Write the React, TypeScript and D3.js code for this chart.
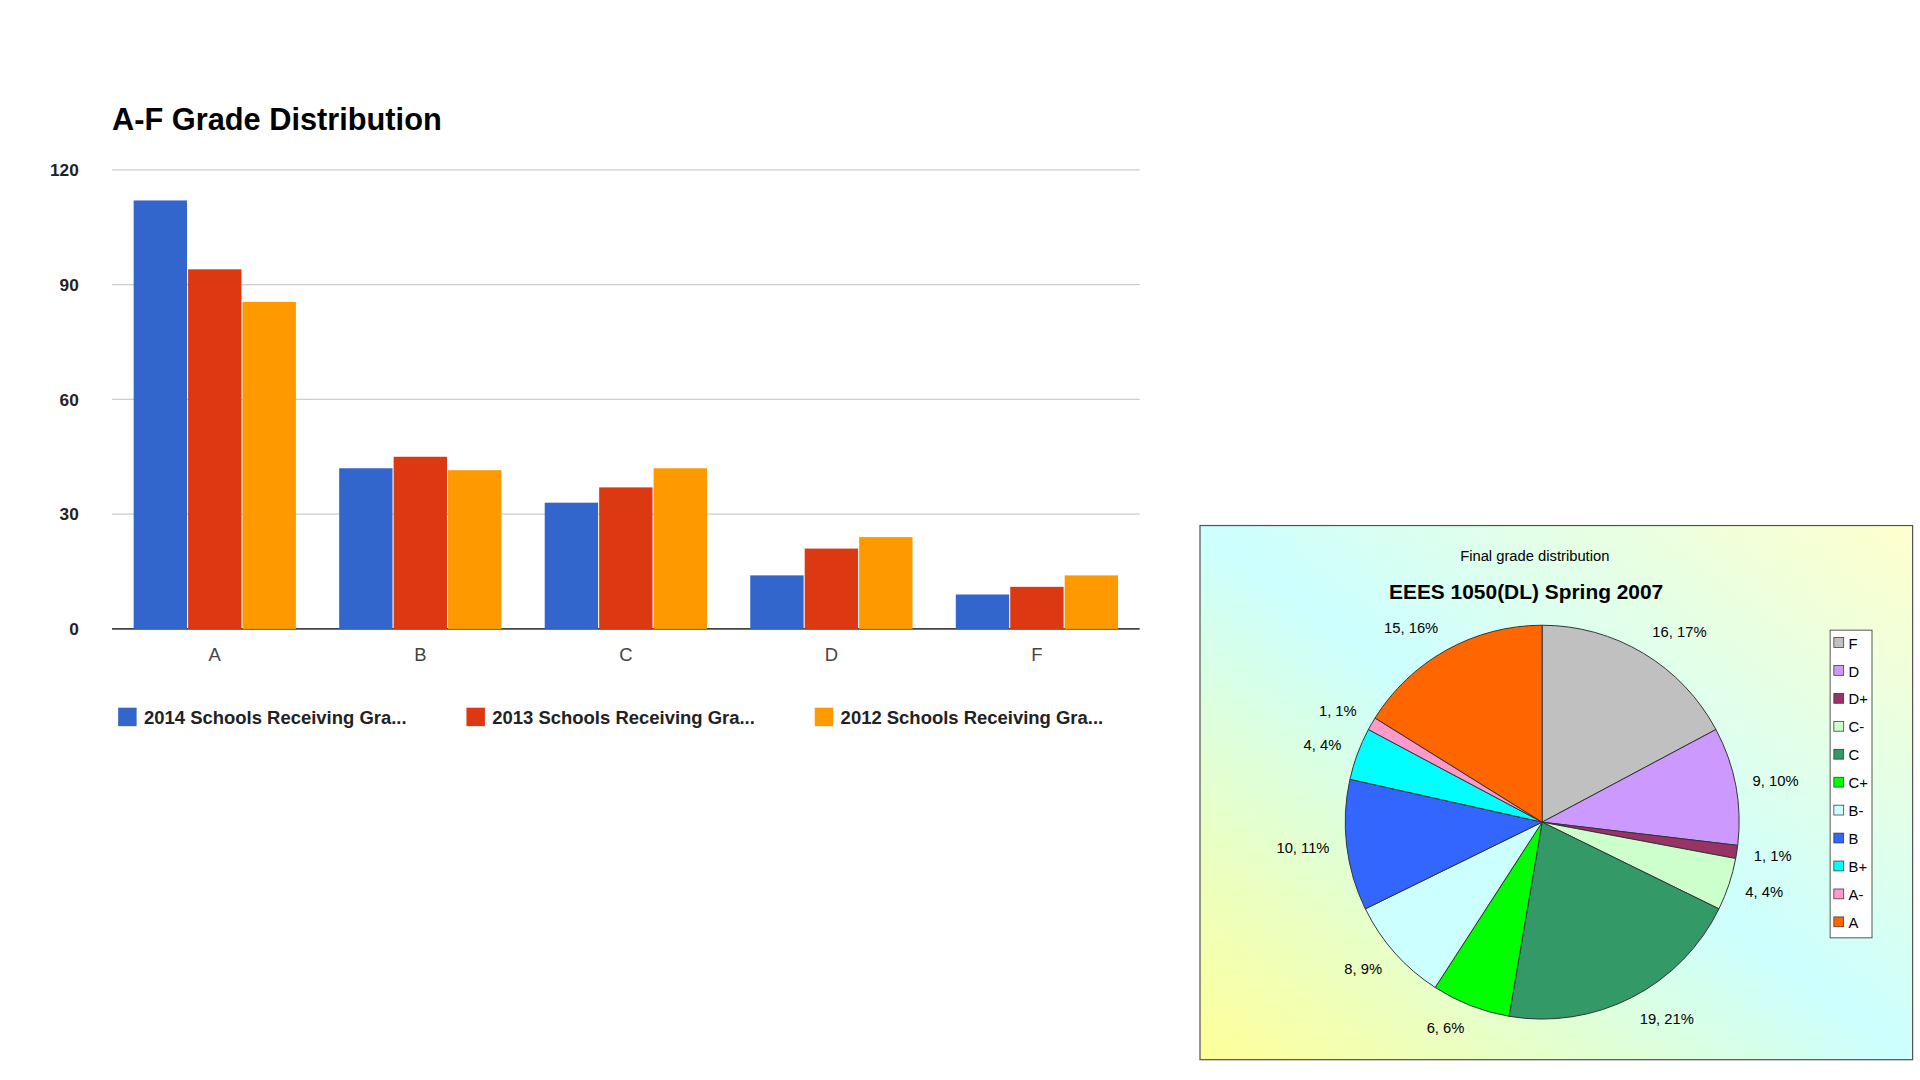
import * as d3 from 'd3'

const grades = ['A', 'B', 'C', 'D', 'F']
const seriesNames = ['2014 Schools Receiving Gra...', '2013 Schools Receiving Gra...', '2012 Schools Receiving Gra...']
const values2014 = [112, 42, 33, 14, 9]
const values2013 = [94, 45, 37, 21, 11]
const values2012 = [85.5, 41.5, 42, 24, 14]
const barColors = ['#3366cc', '#dc3912', '#ff9900']
const yTicks = [0, 30, 60, 90, 120]

const pieLabels = ['F', 'D', 'D+', 'C-', 'C', 'C+', 'B-', 'B', 'B+', 'A-', 'A']
const pieCounts = [16, 9, 1, 4, 19, 6, 8, 10, 4, 1, 15]
const piePercents = [17, 10, 1, 4, 21, 6, 9, 11, 4, 1, 16]
const pieColors = ['#c0c0c0', '#cc99ff', '#993366', '#ccffcc', '#339966', '#00ff00', '#ccffff', '#3366ff', '#00ffff', '#ff99cc', '#ff6600']

export default function App() {
  const series = [values2014, values2013, values2012]
  const x0 = d3.scaleBand().domain(grades).range([91, 926]).paddingInner(0.2).paddingOuter(0.1)
  const x1 = d3.scaleBand().domain(['0', '1', '2']).range([0, x0.bandwidth()]).padding(0.02)
  const y = d3.scaleLinear().domain([0, 120]).range([511, 138])

  const cx = 1253, cy = 668, r = 160
  const arcs = d3.pie<number>().sort(null)(pieCounts)
  const arcGen = d3.arc<d3.PieArcDatum<number>>().innerRadius(0).outerRadius(r)
  const font = 'Arial, "Liberation Sans", sans-serif'

  return (
    <svg width={1920} height={1080} viewBox="0 0 1560 877.5" style={{ position: 'absolute', left: 0, top: 0 }}>
      <defs>
        <linearGradient id="bg" x1="0" y1="1" x2="1" y2="0">
          <stop offset="0" stopColor="#ffff99" />
          <stop offset="0.5" stopColor="#ccffff" />
          <stop offset="1" stopColor="#ffffcc" />
        </linearGradient>
      </defs>
      <rect width={1560} height={877.5} fill="#fff" />
      <text x={91} y={106} fontFamily={font} fontWeight="bold" fontSize={25} fill="#000">A-F Grade Distribution</text>
      {yTicks.map(t => (
        <g key={t}>
          <line x1={91} x2={926} y1={y(t)} y2={y(t)} stroke={t === 0 ? '#444' : '#ccc'} strokeWidth={t === 0 ? 1.5 : 1} />
          <text x={64} y={y(t) + 5} textAnchor="end" fontFamily={font} fontWeight="bold" fontSize={14} fill="#222">{t}</text>
        </g>
      ))}
      {grades.map((g, i) => (
        <g key={g}>
          {series.map((s, j) => (
            <rect key={j} x={x0(g)! + x1(String(j))!} y={y(s[i])} width={x1.bandwidth()} height={y(0) - y(s[i])} fill={barColors[j]} />
          ))}
          <text x={x0(g)! + x0.bandwidth() / 2} y={537} textAnchor="middle" fontFamily={font} fontSize={15} fill="#444">{g}</text>
        </g>
      ))}
      {seriesNames.map((n, j) => (
        <g key={n} transform={`translate(${96 + j * 283},575)`}>
          <rect width={15} height={15} fill={barColors[j]} />
          <text x={21} y={13} fontFamily={font} fontWeight="bold" fontSize={15} fill="#222">{n}</text>
        </g>
      ))}

      <rect x={975} y={427} width={579} height={434} fill="url(#bg)" stroke="#555" strokeWidth={1} />
      <text x={1247} y={456} textAnchor="middle" fontFamily={font} fontSize={12} fill="#000">Final grade distribution</text>
      <text x={1240} y={487} textAnchor="middle" fontFamily={font} fontWeight="bold" fontSize={17} fill="#000">EEES 1050(DL) Spring 2007</text>
      <g transform={`translate(${cx},${cy})`}>
        {arcs.map((a, i) => (
          <path key={i} d={arcGen(a)!} fill={pieColors[i]} stroke="#333" strokeWidth={0.8} />
        ))}
        {arcs.map((a, i) => {
          const m = (a.startAngle + a.endAngle) / 2
          const lx = Math.sin(m) * (r + 14)
          const ly = -Math.cos(m) * (r + 14)
          return (
            <text key={i} x={lx} y={ly + 4 - Math.cos(m) * 6} textAnchor={Math.sin(m) >= 0 ? 'start' : 'end'} fontFamily={font} fontSize={12} fill="#000">
              {pieCounts[i]}, {piePercents[i]}%
            </text>
          )
        })}
      </g>
      <rect x={1487} y={512} width={34} height={250} fill="#fff" stroke="#555" strokeWidth={0.8} />
      {pieLabels.map((l, i) => (
        <g key={l} transform={`translate(1490,${518 + i * 22.7})`}>
          <rect width={8} height={8} fill={pieColors[i]} stroke="#333" strokeWidth={0.6} />
          <text x={12} y={9} fontFamily={font} fontSize={12} fill="#000">{l}</text>
        </g>
      ))}
    </svg>
  )
}
